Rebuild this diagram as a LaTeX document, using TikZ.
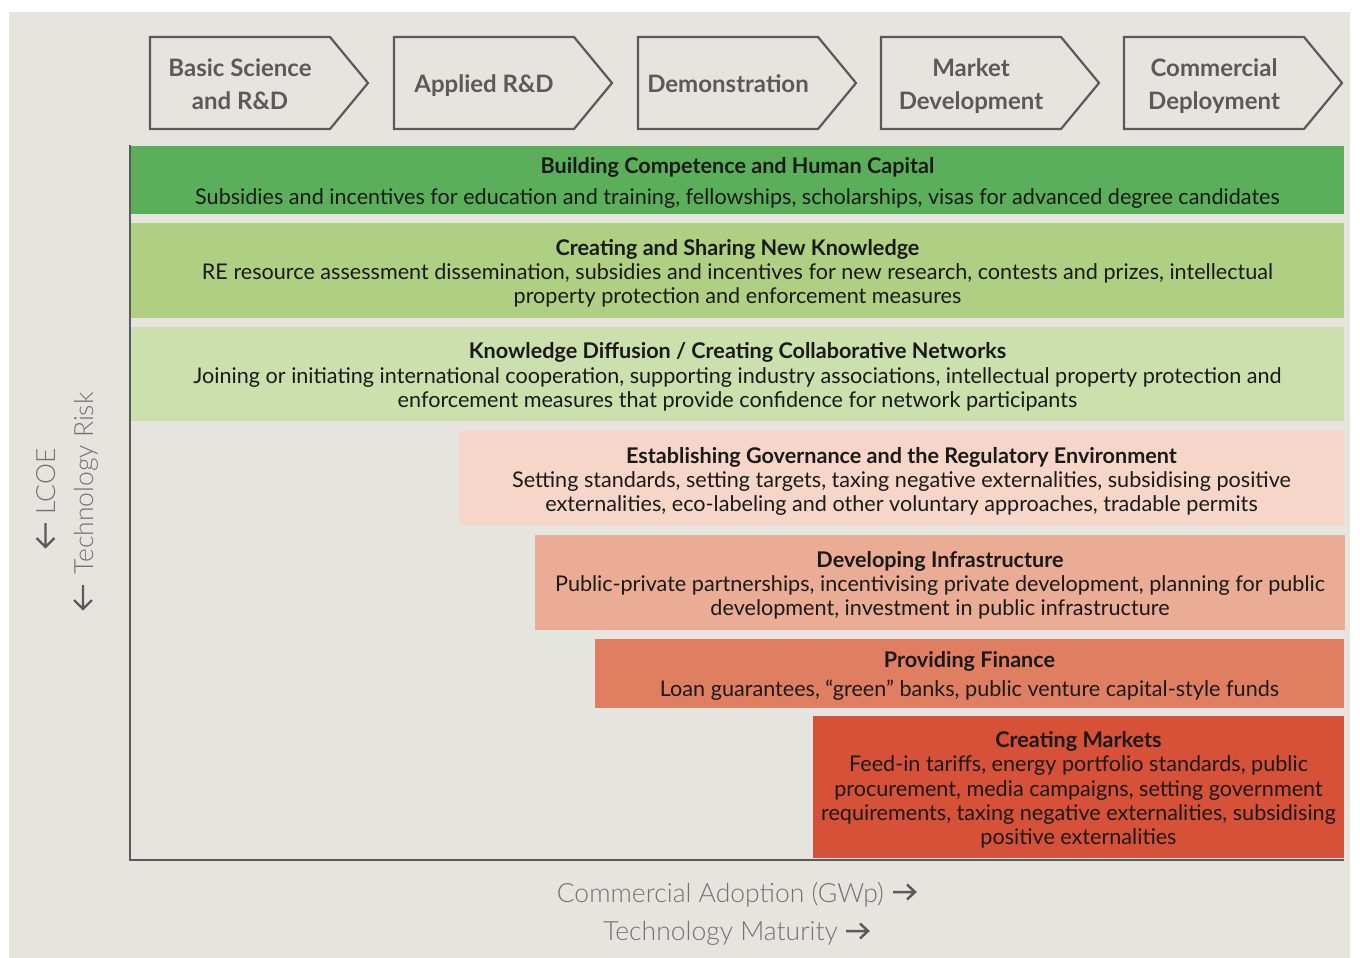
\documentclass[tikz,border=0pt]{standalone}
\usepackage{fontspec}
\setmainfont{Lato}
\newfontfamily\lightfont{Lato}[UprightFont={* Light}]
\definecolor{bgc}{HTML}{E5E4DF}
\definecolor{linec}{HTML}{5A5A5A}
\definecolor{labc}{HTML}{727272}
\definecolor{txtc}{HTML}{1A1A1A}
\definecolor{cA}{HTML}{5BAE5A}
\definecolor{cB}{HTML}{AFCF83}
\definecolor{cC}{HTML}{CCE0AE}
\definecolor{cD}{HTML}{F6D6C8}
\definecolor{cE}{HTML}{EAAC94}
\definecolor{cF}{HTML}{E07E62}
\definecolor{cG}{HTML}{D65138}
\begin{document}
\begin{tikzpicture}[x=1pt,y=-1pt,
  chev/.style={draw=linec, line width=2.2pt, line join=miter},
  chevtext/.style={text=linec, align=center, font=\fontsize{24}{33}\selectfont\bfseries, inner sep=0pt},
  bar/.style={inner sep=0pt},
  bartext/.style={inner sep=0pt, align=center, text=txtc, font=\fontsize{21.6}{24.3}\selectfont},
  axis/.style={draw=linec, line width=2.4pt},
  axlab/.style={text=labc, font=\fontsize{26.5}{30}\selectfont\lightfont, inner sep=0pt},
  axarrow/.style={draw=linec, line width=2.5pt, line cap=butt, line join=miter}]
\useasboundingbox (0,0) rectangle (1360,958);
\fill[white] (0,0) rectangle (1360,958);
\fill[bgc] (9,12) rectangle (1350,958);
% stage chevrons
\foreach \x/\yy/\t [count=\i] in {150/84/{Basic Science\\and R\&D},394/86/{Applied R\&D},638/84/{Demonstration},881/86.5/{Market\\Development},1124/86.5/{Commercial\\Deployment}}{
  \draw[chev] (\x,37) -- ++(180,0) -- ++(38,46) -- ++(-38,46) -- ++(-180,0) -- cycle;
  \node[chevtext] (st\i) at (\x+90,\yy) {\t};
}
% bars
\node[bar, fill=cA, minimum width=1213pt, minimum height=68pt] (b1) at (737.5,180) {};
\node[bar, fill=cB, minimum width=1213pt, minimum height=95pt] (b2) at (737.5,270.5) {};
\node[bar, fill=cC, minimum width=1213pt, minimum height=94pt] (b3) at (737.5,374) {};
\node[bar, fill=cD, minimum width=885pt, minimum height=94pt] (b4) at (901.5,478) {};
\node[bar, fill=cE, minimum width=810pt, minimum height=95pt] (b5) at (940,582.5) {};
\node[bar, fill=cF, minimum width=749pt, minimum height=69pt] (b6) at (969.5,673.5) {};
\node[bar, fill=cG, minimum width=531pt, minimum height=142pt] (b7) at (1078.5,787) {};
% bar texts
\node[bartext] (t1) at ([yshift=-3pt]b1.center)
  {{\bfseries Building Competence and Human Capital}\\[6pt]
   Subsidies and incentives for education and training, fellowships, scholarships, visas for advanced degree candidates};
\node[bartext] (t2) at ([yshift=-3pt]b2.center)
  {{\bfseries Creating and Sharing New Knowledge}\\
   RE resource assessment dissemination, subsidies and incentives for new research, contests and prizes, intellectual\\
   property protection and enforcement measures};
\node[bartext] (t3) at ([yshift=-3pt]b3.center)
  {{\bfseries Knowledge Diffusion / Creating Collaborative Networks}\\
   Joining or initiating international cooperation, supporting industry associations, intellectual property protection and\\
   enforcement measures that provide confidence for network participants};
\node[bartext] (t4) at ([yshift=-3.5pt]b4.center)
  {{\bfseries Establishing Governance and the Regulatory Environment}\\
   Setting standards, setting targets, taxing negative externalities, subsidising positive\\
   externalities, eco-labeling and other voluntary approaches, tradable permits};
\node[bartext] (t5) at ([yshift=-3pt]b5.center)
  {{\bfseries Developing Infrastructure}\\
   Public-private partnerships, incentivising private development, planning for public\\
   development, investment in public infrastructure};
\node[bartext] (t6) at ([yshift=-2.5pt]b6.center)
  {{\bfseries Providing Finance}\\[5pt]
   Loan guarantees, “green” banks, public venture capital-style funds};
\node[bartext] (t7) at ([yshift=-3pt]b7.center)
  {{\bfseries Creating Markets}\\
   Feed-in tariffs, energy portfolio standards, public\\
   procurement, media campaigns, setting government\\
   requirements, taxing negative externalities, subsidising\\
   positive externalities};
% axes
\coordinate (ytop) at (130,145);
\coordinate (orig) at (130,860);
\coordinate (xend) at (1344,860);
\draw[axis] (ytop) -- (orig) -- (xend);
% axis labels
\node[axlab, rotate=90, anchor=base west] (lcoe) at (55,515) {LCOE};
\node[axlab, rotate=90, anchor=base west] (risk) at (93,575) {Technology Risk};
\node[axlab, anchor=base east] (adopt) at (884,902) {Commercial Adoption (GWp)};
\node[axlab, anchor=base east] (matur) at (838,940) {Technology Maturity};
% arrows of the axis labels
\coordinate (a1s) at (45.5,523); \coordinate (a1e) at (45.5,547);
\coordinate (a2s) at (83,585);   \coordinate (a2e) at (83,609);
\coordinate (a3s) at (893,892);  \coordinate (a3e) at (915,892);
\coordinate (a4s) at (846,931);  \coordinate (a4e) at (868,931);
\draw[axarrow, line width=2.2pt] (a1s) -- (a1e) (a1e) ++(-9,-9) -- (a1e) -- ++(9,-9);
\draw[axarrow, line width=2.2pt] (a2s) -- (a2e) (a2e) ++(-9,-9) -- (a2e) -- ++(9,-9);
\draw[axarrow] (a3s) -- (a3e) (a3e) ++(-8,-7.5) -- (a3e) -- ++(-8,7.5);
\draw[axarrow] (a4s) -- (a4e) (a4e) ++(-8,-7.5) -- (a4e) -- ++(-8,7.5);
\end{tikzpicture}
\end{document}
